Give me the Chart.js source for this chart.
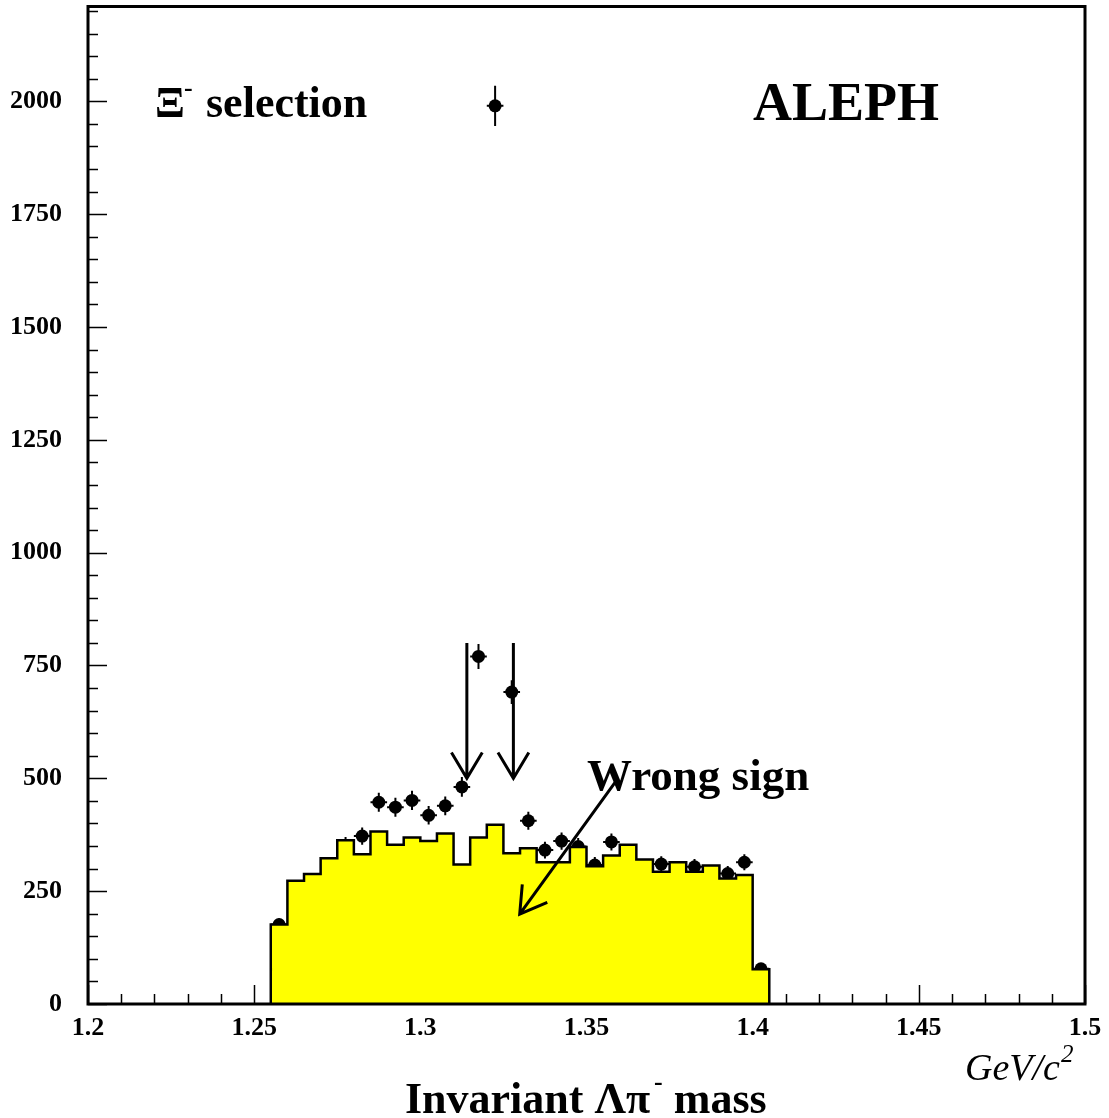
<!DOCTYPE html>
<html>
<head>
<meta charset="utf-8">
<script src="https://cdn.jsdelivr.net/npm/chart.js@4.4.0/dist/chart.umd.min.js"></script>
<style>
  html, body { margin: 0; padding: 0; background: #fff; }
  canvas { display: block; }
</style>
</head>
<body>
<canvas id="massChart" width="1109" height="1118"></canvas>
<script>
// Lambda pi- invariant mass, 5 MeV bins starting at 1.255 GeV/c^2
const binStart = 1.255;
const binWidth = 0.005;
// wrong-sign combinations (yellow histogram)
const wrongSign = [176, 273, 288, 323, 363, 332, 382, 353, 369, 361,
                   378, 309, 369, 397, 334, 345, 314, 314, 348, 305,
                   329, 353, 320, 293, 314, 293, 307, 278, 286, 77];
// right-sign combinations (points with errors)
const rightSign = [176, 250, 265, 300, 351, 372, 447, 436, 451, 418,
                   439, 481, 770, 1990, 691, 406, 341, 361, 349, 308,
                   359, 330, 298, 310, 292, 304, 285, 289, 314, 78];
// axis labels
const yLabels = [0, 250, 500, 750, 1000, 1250, 1500, 1750, 2000];
const xLabels = [1.2, 1.25, 1.3, 1.35, 1.4, 1.45, 1.5];
// mass window arrows and the "Wrong sign" pointer, in axis units
const windowCuts = [1.314, 1.328];
const cutArrowTop = 800, cutArrowTip = 500;
const wrongArrow = { x0: 1.3586, y0: 491, x1: 1.3299, y1: 199 };

const yMax = 2210;
const serif = '"Liberation Serif", "Times New Roman", serif';

const binCentres = rightSign.map((_, i) => binStart + (i + 0.5) * binWidth);
const histSteps = [{ x: binStart, y: 0 }]
  .concat(wrongSign.map((v, i) => ({ x: binStart + i * binWidth, y: v })))
  .concat([{ x: binStart + wrongSign.length * binWidth, y: 0 }]);

function arrow(ctx, x0, y0, x1, y1) {
  const ang = Math.atan2(y1 - y0, x1 - x0);
  const len = 30, spread = 0.54;
  ctx.beginPath();
  ctx.moveTo(x0, y0);
  ctx.lineTo(x1, y1);
  ctx.moveTo(x1 - len * Math.cos(ang - spread), y1 - len * Math.sin(ang - spread));
  ctx.lineTo(x1, y1);
  ctx.lineTo(x1 - len * Math.cos(ang + spread), y1 - len * Math.sin(ang + spread));
  ctx.stroke();
}

// tick marks point into the frame, like the old HBOOK style
const innerTicks = {
  id: 'innerTicks',
  beforeDatasetsDraw(chart) {
    const { ctx, chartArea: a, scales: { x, y } } = chart;
    ctx.save();
    ctx.strokeStyle = '#000';
    ctx.lineWidth = 1.5;
    ctx.beginPath();
    for (let v = 0; v <= yMax; v += 50) {
      const py = Math.round(y.getPixelForValue(v)) + 0.5;
      const len = v % 250 === 0 ? 19 : 10;
      ctx.moveTo(a.left, py);
      ctx.lineTo(a.left + len, py);
    }
    for (let k = 0; k <= 30; k++) {
      const px = Math.round(x.getPixelForValue(1.2 + k * 0.01)) + 0.5;
      const len = k % 5 === 0 ? 19 : 10;
      ctx.moveTo(px, a.bottom);
      ctx.lineTo(px, a.bottom - len);
    }
    ctx.stroke();
    ctx.restore();
  },
  afterDatasetsDraw(chart) {
    const { ctx, chartArea: a } = chart;
    ctx.save();
    ctx.strokeStyle = '#000';
    ctx.lineWidth = 3;
    ctx.strokeRect(a.left, a.top, a.right - a.left, a.bottom - a.top);
    ctx.restore();
  }
};

// sqrt(N) vertical and half-bin horizontal error bars
const errorBars = {
  id: 'errorBars',
  afterDatasetDraw(chart, args) {
    if (args.index !== 1) return;
    const { ctx, scales: { x, y } } = chart;
    ctx.save();
    ctx.strokeStyle = '#000';
    ctx.lineWidth = 2;
    ctx.beginPath();
    rightSign.forEach((n, i) => {
      const c = binCentres[i];
      const err = Math.sqrt(n);
      const px = x.getPixelForValue(c), py = y.getPixelForValue(n);
      ctx.moveTo(px, y.getPixelForValue(n - err));
      ctx.lineTo(px, y.getPixelForValue(n + err));
      ctx.moveTo(x.getPixelForValue(c - binWidth / 2), py);
      ctx.lineTo(x.getPixelForValue(c + binWidth / 2), py);
    });
    ctx.stroke();
    ctx.restore();
  }
};

const labels = {
  id: 'labels',
  afterDraw(chart) {
    const { ctx, scales: { x, y } } = chart;
    ctx.save();
    ctx.fillStyle = '#000';
    ctx.strokeStyle = '#000';
    ctx.lineWidth = 3;
    ctx.textBaseline = 'alphabetic';

    windowCuts.forEach(m => {
      const px = x.getPixelForValue(m);
      arrow(ctx, px, y.getPixelForValue(cutArrowTop), px, y.getPixelForValue(cutArrowTip));
    });
    arrow(ctx, x.getPixelForValue(wrongArrow.x0), y.getPixelForValue(wrongArrow.y0),
               x.getPixelForValue(wrongArrow.x1), y.getPixelForValue(wrongArrow.y1));

    ctx.font = 'bold 44px ' + serif;
    ctx.fillText('\u039E', 155, 117);
    ctx.font = 'bold 26px ' + serif;
    ctx.fillText('-', 184, 96);
    ctx.font = 'bold 44px ' + serif;
    ctx.fillText('selection', 206, 117);

    ctx.font = 'bold 54px ' + serif;
    ctx.fillText('ALEPH', 753, 120);

    ctx.font = 'bold 45px ' + serif;
    ctx.fillText('Wrong sign', 587, 790);

    let tx = 405;
    ctx.font = 'bold 44px ' + serif;
    ctx.fillText('Invariant \u039B\u03C0', tx, 1113);
    tx += ctx.measureText('Invariant \u039B\u03C0').width + 4;
    ctx.font = 'bold 26px ' + serif;
    ctx.fillText('-', tx, 1090);
    tx += ctx.measureText('-').width;
    ctx.font = 'bold 44px ' + serif;
    ctx.fillText(' mass', tx, 1113);

    ctx.font = 'italic 38px ' + serif;
    ctx.fillText('GeV/c', 965, 1080);
    const gx = 965 + ctx.measureText('GeV/c').width + 1;
    ctx.font = 'italic 25px ' + serif;
    ctx.fillText('2', gx, 1062);
    ctx.restore();
  }
};

const tickFont = { family: serif, size: 26, weight: 'bold' };

new Chart(document.getElementById('massChart'), {
  type: 'scatter',
  data: {
    datasets: [
      {
        type: 'line',
        label: 'wrong sign',
        data: histSteps,
        stepped: 'before',
        fill: 'origin',
        backgroundColor: '#ffff00',
        borderColor: '#000',
        borderWidth: 2.5,
        pointRadius: 0,
        order: 0
      },
      {
        label: 'right sign',
        data: rightSign.map((n, i) => ({ x: binCentres[i], y: n })),
        pointRadius: 6.5,
        pointBackgroundColor: '#000',
        pointBorderWidth: 0,
        order: 1
      }
    ]
  },
  options: {
    responsive: false,
    animation: false,
    devicePixelRatio: 1,
    layout: { padding: { top: 5, right: 24, left: 0, bottom: 0 } },
    plugins: { legend: { display: false }, tooltip: { enabled: false } },
    scales: {
      x: {
        type: 'linear',
        min: 1.2,
        max: 1.5,
        afterBuildTicks: s => { s.ticks = xLabels.map(v => ({ value: v })); },
        afterFit: s => {
          s.height = 114;
          s.paddingLeft = 0;
          s.paddingRight = 0;
        },
        grid: { display: false, drawTicks: false },
        border: { display: false },
        ticks: {
          padding: 9,
          color: '#000',
          font: tickFont,
          maxRotation: 0,
          autoSkip: false,
          callback: v => String(v)
        }
      },
      y: {
        min: 0,
        max: yMax,
        afterBuildTicks: s => { s.ticks = yLabels.map(v => ({ value: v })); },
        afterFit: s => {
          s.width = 88;
          s.paddingTop = 0;
          s.paddingBottom = 0;
        },
        grid: { display: false, drawTicks: false },
        border: { display: false },
        ticks: {
          padding: 26,
          color: '#000',
          font: tickFont,
          autoSkip: false,
          callback: v => String(v)
        }
      }
    }
  },
  plugins: [innerTicks, errorBars, labels]
});
</script>
</body>
</html>
